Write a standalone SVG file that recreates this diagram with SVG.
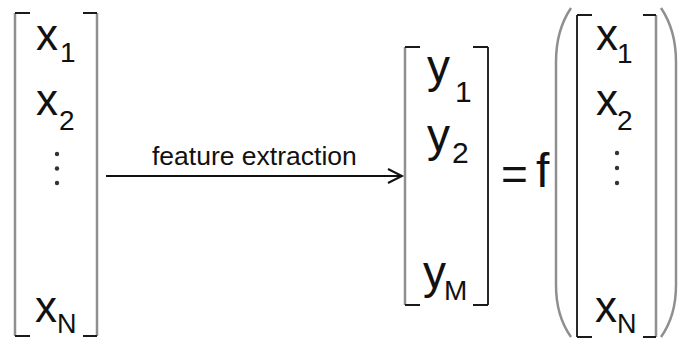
<svg xmlns="http://www.w3.org/2000/svg" width="678" height="339" viewBox="0 0 678 339">
<style>
.bg{fill:#ffffff}
.br{fill:none;stroke:#8f8f8f;stroke-width:2.5}
.brd{fill:none;stroke:#2a2a2a;stroke-width:2}
.sr{fill:none;stroke:#1a1a1a;stroke-width:2}
.m{font-family:"Liberation Sans",Arial,sans-serif;fill:#111}
.big{font-size:44px}
.sub{font-size:28px}
.subn{font-size:27px}
.lbl{font-family:"Liberation Sans",Arial,sans-serif;font-size:26.5px;fill:#111}
.edge{fill:none;stroke:#111;stroke-width:2}
.dot{fill:#333}
</style>
<rect class="bg" x="0" y="0" width="678" height="339"/>

<g id="vector-x">
  <path class="br" d="M15 13 V336 M97 13 V336"/>
  <path class="sr" d="M15 13 H30 M15 336 H30 M83 13 H97 M83 336 H97"/>
  <text class="m big" x="36" y="50">x</text>
  <text class="m sub" x="60" y="62">1</text>
  <text class="m big" x="36" y="115">x</text>
  <text class="m sub" x="59" y="130">2</text>
  <circle class="dot" cx="57" cy="154" r="2.2"/>
  <circle class="dot" cx="57" cy="168.5" r="2.2"/>
  <circle class="dot" cx="57" cy="183" r="2.2"/>
  <text class="m big" x="35" y="322">x</text>
  <text class="m subn" x="57" y="332.5">N</text>
</g>

<g id="connectors">
  <line class="edge" x1="106" y1="176" x2="401" y2="176"/>
  <path class="edge" d="M388 169 L402 176 L388 183"/>
  <text class="lbl" x="152" y="165">feature extraction</text>
</g>

<g id="vector-y">
  <path class="br" d="M405 47 V305"/>
  <path class="brd" d="M488 47 V305"/>
  <path class="sr" d="M405 47 H420 M405 305 H420 M473 47 H488 M473 305 H488"/>
  <text class="m" font-size="46" x="427" y="82">y</text>
  <text class="m" font-size="30" x="455" y="102">1</text>
  <text class="m" font-size="46" x="427" y="151">y</text>
  <text class="m" font-size="30" x="452" y="163">2</text>
  <text class="m" font-size="46" x="423" y="288">y</text>
  <text class="m sub" x="444" y="300">M</text>
</g>

<g id="equals-f">
  <text class="m" font-size="46" x="501" y="190">=</text>
  <text class="m" font-size="48" x="536" y="187">f</text>
</g>

<g id="f-of-x">
  <path class="br" d="M571 8 Q556 30 556 62 V285 Q556 316 571 337"/>
  <path class="br" d="M661 8 Q676 30 676 62 V285 Q676 316 661 337"/>
  <path class="brd" d="M577 15 V337"/>
  <path class="br" d="M656 15 V337"/>
  <path class="sr" d="M577 15 H592 M577 337 H592 M643 15 H656 M643 337 H656"/>
  <text class="m big" x="596" y="50">x</text>
  <text class="m sub" x="617" y="63">1</text>
  <text class="m big" x="596" y="115">x</text>
  <text class="m sub" x="617" y="130">2</text>
  <circle class="dot" cx="617" cy="153" r="2.2"/>
  <circle class="dot" cx="617" cy="168" r="2.2"/>
  <circle class="dot" cx="617" cy="183" r="2.2"/>
  <text class="m big" x="595" y="322">x</text>
  <text class="m subn" x="617" y="332.5">N</text>
</g>
</svg>
